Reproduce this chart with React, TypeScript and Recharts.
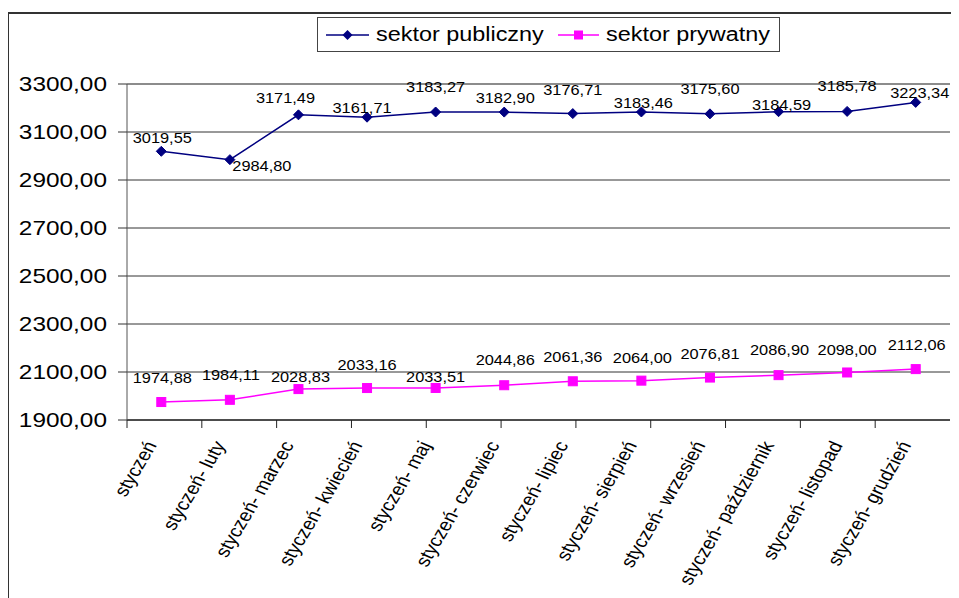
import React from 'react';
import { LineChart, Line, XAxis, YAxis, CartesianGrid, ReferenceLine, LabelList } from 'recharts';

const MONTHS = [
  'styczeń',
  'styczeń- luty',
  'styczeń- marzec',
  'styczeń- kwiecień',
  'styczeń- maj',
  'styczeń- czerwiec',
  'styczeń- lipiec',
  'styczeń- sierpień',
  'styczeń- wrzesień',
  'styczeń- październik',
  'styczeń- listopad',
  'styczeń- grudzień',
];
const PUBLIC = [3019.55, 2984.8, 3171.49, 3161.71, 3183.27, 3182.9, 3176.71, 3183.46, 3175.6, 3184.59, 3185.78, 3223.34];
const PRIVATE = [1974.88, 1984.11, 2028.83, 2033.16, 2033.51, 2044.86, 2061.36, 2064.0, 2076.81, 2086.9, 2098.0, 2112.06];
const Y_TICKS = [1900, 2100, 2300, 2500, 2700, 2900, 3100, 3300];
const BOUNDARY_TICKS = [0, 1, 2, 3, 4, 5, 6, 7, 8, 9, 10, 11, 12];
const SERIES_NAMES = ['sektor publiczny', 'sektor prywatny'];

// label placement offsets (styling)
const PUB_DX = [1, 32, -13, -5, 0, 1, 0, 2, 0, 3, 0, 4];
const PUB_DY = [-13, 6, -17, -9, -25, -14, -24, -9, -25, -7, -25, -9];
const PRV_DX = [1, 1, 2, 0, 0, 1, 0, 1, 0, 1, 0, 1];
const PRV_DY = [-24, -25, -12, -23, -11, -25, -24, -23, -24, -25, -23, -24];

const data = MONTHS.map((m, i) => ({ month: m, pub: PUBLIC[i], prv: PRIVATE[i] }));

const FONT = '"Liberation Sans", Arial, sans-serif';
const W = 951;
const H = 590;
const MARGIN = { top: 76, right: 9, left: 0, bottom: 0 };
const Y_W = 119;
const PLOT_W = W - MARGIN.right - MARGIN.left - Y_W;
const HALF_BAND = PLOT_W / MONTHS.length / 2;

const NAVY = '#000080';
const MAGENTA = '#FF00FF';

const fmt = (v: number) => v.toFixed(2).replace('.', ',');

const YTick = (props: any) => {
  const { x, y, payload } = props;
  return (
    <text
      transform={`translate(${x},${y}) scale(1.22,1)`}
      textAnchor="end"
      dy="0.36em"
      fontSize={20}
      fontFamily={FONT}
      fill="#000"
    >
      {fmt(payload.value)}
    </text>
  );
};

const XTick = (props: any) => {
  const { x, y, payload } = props;
  return (
    <text
      transform={`translate(${x - 4},${y + 24}) scale(1.17,1) rotate(-63)`}
      textAnchor="end"
      fontSize={17.5}
      fontFamily={FONT}
      fill="#000"
    >
      {payload.value}
    </text>
  );
};

const makeLabel = (dxs: number[], dys: number[]) => (props: any) => {
  const { x, y, value, index } = props;
  return (
    <text
      transform={`translate(${x + dxs[index]},${y + dys[index]}) scale(1.17,1)`}
      textAnchor="middle"
      dy="0.36em"
      fontSize={14}
      fontFamily={FONT}
      fill="#000"
    >
      {fmt(value)}
    </text>
  );
};

const Diamond = (props: any) => {
  const { cx, cy } = props;
  if (cx == null || cy == null) return <g />;
  const r = 5;
  return <polygon points={`${cx},${cy - r} ${cx + r},${cy} ${cx},${cy + r} ${cx - r},${cy}`} fill={NAVY} stroke={NAVY} />;
};

const Square = (props: any) => {
  const { cx, cy } = props;
  if (cx == null || cy == null) return <g />;
  const s = 4.5;
  return <rect x={cx - s} y={cy - s} width={2 * s} height={2 * s} fill={MAGENTA} stroke={MAGENTA} />;
};

const LegendBox = () => (
  <div
    style={{
      position: 'absolute',
      left: 309,
      top: 9,
      width: 461,
      height: 33,
      border: '1px solid #444',
      background: '#fff',
      fontFamily: FONT,
    }}
  >
    <svg style={{ position: 'absolute', left: 8, top: 0 }} width={44} height={33}>
      <line x1={0} y1={17} x2={43} y2={17} stroke={NAVY} strokeWidth={1.5} />
      <polygon points="21.5,12 26.5,17 21.5,22 16.5,17" fill={NAVY} />
    </svg>
    <span
      style={{
        position: 'absolute',
        left: 58,
        top: 3,
        fontSize: 20,
        lineHeight: '26px',
        display: 'inline-block',
        transform: 'scaleX(1.17)',
        transformOrigin: 'left',
        whiteSpace: 'nowrap',
      }}
    >
      {SERIES_NAMES[0]}
    </span>
    <svg style={{ position: 'absolute', left: 240, top: 0 }} width={42} height={33}>
      <line x1={0} y1={17} x2={41} y2={17} stroke={MAGENTA} strokeWidth={1.5} />
      <rect x={16} y={12.5} width={9} height={9} fill={MAGENTA} />
    </svg>
    <span
      style={{
        position: 'absolute',
        left: 288,
        top: 3,
        fontSize: 20,
        lineHeight: '26px',
        display: 'inline-block',
        transform: 'scaleX(1.17)',
        transformOrigin: 'left',
        whiteSpace: 'nowrap',
      }}
    >
      {SERIES_NAMES[1]}
    </span>
  </div>
);

export default function App() {
  return (
    <div style={{ position: 'relative', width: W, height: H, background: '#fff' }}>
      <div
        style={{
          position: 'absolute',
          left: -1,
          top: 4,
          width: W + 20,
          height: H + 20,
          borderTop: '2px solid #333',
          borderLeft: '2px solid #333',
        }}
      />
      <div style={{ position: 'absolute', left: 0, top: 0 }}>
        <LineChart width={W} height={H} data={data} margin={MARGIN}>
          <CartesianGrid xAxisId="c" horizontal vertical={false} stroke="#333" />
          <XAxis
            xAxisId="b"
            type="number"
            domain={[0, 12]}
            ticks={BOUNDARY_TICKS}
            allowDataOverflow
            height={1}
            tickSize={8}
            tick={() => <g />}
            axisLine={{ stroke: '#000' }}
            tickLine={{ stroke: '#222' }}
          />
          <XAxis
            xAxisId="c"
            dataKey="month"
            type="category"
            padding={{ left: HALF_BAND, right: HALF_BAND }}
            height={177}
            axisLine={false}
            tickLine={false}
            tickSize={0}
            tickMargin={0}
            interval={0}
            tick={<XTick />}
          />
          <YAxis
            type="number"
            domain={[1900, 3300]}
            ticks={Y_TICKS}
            allowDataOverflow
            width={Y_W}
            tickSize={9}
            tickMargin={11}
            axisLine={{ stroke: '#555' }}
            tickLine={{ stroke: '#333' }}
            tick={<YTick />}
          />
          <ReferenceLine xAxisId="b" y={3300} stroke="#888" strokeWidth={1.5} />
          <ReferenceLine xAxisId="b" x={12} stroke="#888" strokeWidth={1.5} />
          <Line
            xAxisId="c"
            dataKey="pub"
            stroke={NAVY}
            strokeWidth={1.5}
            dot={<Diamond />}
            activeDot={false}
            isAnimationActive={false}
          >
            <LabelList dataKey="pub" content={makeLabel(PUB_DX, PUB_DY)} />
          </Line>
          <Line
            xAxisId="c"
            dataKey="prv"
            stroke={MAGENTA}
            strokeWidth={1.5}
            dot={<Square />}
            activeDot={false}
            isAnimationActive={false}
          >
            <LabelList dataKey="prv" content={makeLabel(PRV_DX, PRV_DY)} />
          </Line>
        </LineChart>
      </div>
      <LegendBox />
    </div>
  );
}
